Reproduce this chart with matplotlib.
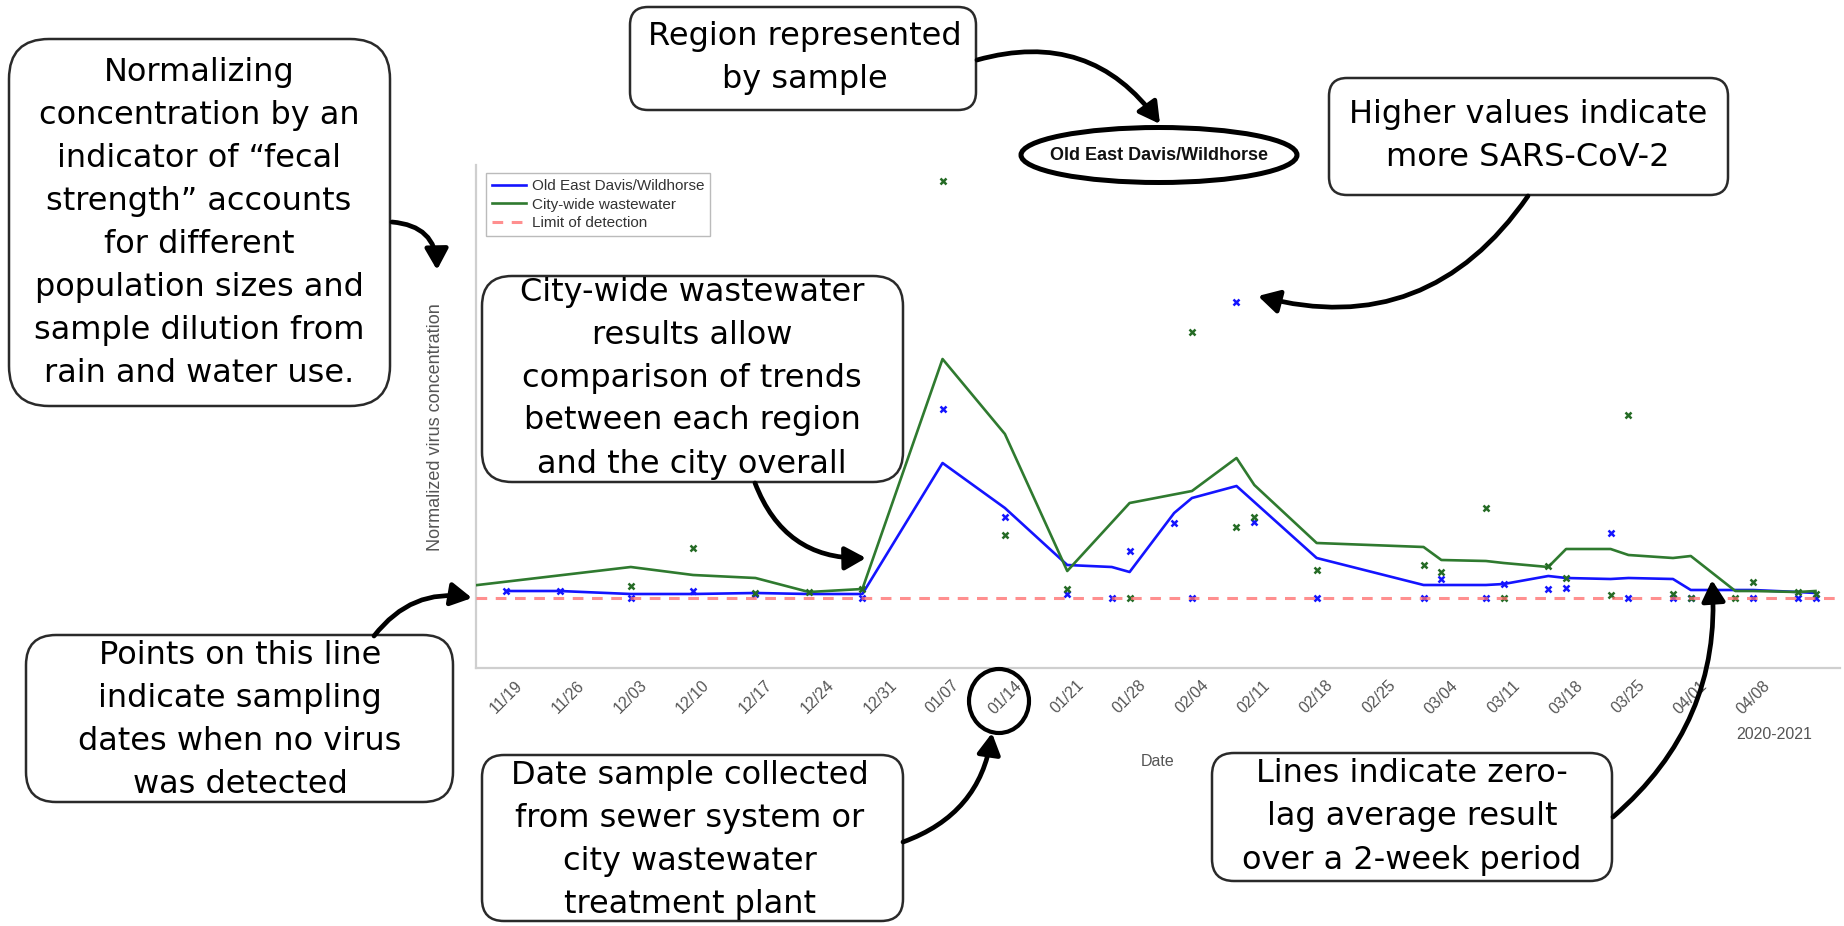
import numpy as np
import matplotlib
matplotlib.use("Agg")
import matplotlib.pyplot as plt
import matplotlib.transforms as mtransforms
from matplotlib.patches import FancyBboxPatch, FancyArrowPatch, Ellipse

# ------------------------------------------------------------------ data
oedw_dates = ["2020-11-19", "2020-11-25", "2020-12-03", "2020-12-10", "2020-12-17",
              "2020-12-29", "2021-01-07", "2021-01-14", "2021-01-21", "2021-01-26",
              "2021-01-28", "2021-02-02", "2021-02-04", "2021-02-09", "2021-02-11",
              "2021-02-18", "2021-03-02", "2021-03-04", "2021-03-09", "2021-03-11",
              "2021-03-16", "2021-03-18", "2021-03-23", "2021-03-25", "2021-03-30",
              "2021-04-01", "2021-04-08", "2021-04-13", "2021-04-15"]
oedw_values = [0.77, 0.77, 0.70, 0.77, 0.74, 0.70, 2.59, 1.51, 0.74, 0.70,
               1.17, 1.45, 0.70, 3.66, 1.46, 0.70, 0.70, 0.89, 0.70, 0.84,
               0.79, 0.80, 1.35, 0.70, 0.70, 0.70, 0.70, 0.70, 0.70]

city_dates = ["2020-12-03", "2020-12-10", "2020-12-17", "2020-12-23", "2020-12-29",
              "2021-01-07", "2021-01-14", "2021-01-21", "2021-01-28", "2021-02-04",
              "2021-02-09", "2021-02-11", "2021-02-18", "2021-03-02", "2021-03-04",
              "2021-03-09", "2021-03-11", "2021-03-16", "2021-03-18", "2021-03-23",
              "2021-03-25", "2021-03-30", "2021-04-01", "2021-04-06", "2021-04-08",
              "2021-04-13", "2021-04-15"]
city_values = [0.82, 1.20, 0.75, 0.76, 0.79, 4.87, 1.33, 0.79, 0.70, 3.36,
               1.41, 1.51, 0.98, 1.03, 0.96, 1.60, 0.70, 1.02, 0.90, 0.73,
               2.53, 0.74, 0.70, 0.70, 0.86, 0.76, 0.74]

oedw_avg_dates = ["2020-11-19", "2020-11-25", "2020-12-03", "2020-12-10", "2020-12-17",
                  "2020-12-23", "2020-12-29", "2021-01-07", "2021-01-14", "2021-01-21",
                  "2021-01-26", "2021-01-28", "2021-02-02", "2021-02-04", "2021-02-09",
                  "2021-02-11", "2021-02-18", "2021-03-02", "2021-03-04", "2021-03-09",
                  "2021-03-11", "2021-03-16", "2021-03-18", "2021-03-23", "2021-03-25",
                  "2021-03-30", "2021-04-01", "2021-04-06", "2021-04-08", "2021-04-13",
                  "2021-04-15"]
oedw_avg = [0.77, 0.77, 0.74, 0.74, 0.75, 0.74, 0.74, 2.05, 1.60, 1.03,
            1.01, 0.96, 1.55, 1.70, 1.82, 1.66, 1.10, 0.83, 0.83, 0.83,
            0.84, 0.92, 0.90, 0.89, 0.90, 0.89, 0.78, 0.78, 0.78, 0.76,
            0.75]

city_avg_dates = ["2020-11-12", "2020-12-03", "2020-12-10", "2020-12-17", "2020-12-23",
                  "2020-12-29", "2021-01-07", "2021-01-14", "2021-01-21", "2021-01-28",
                  "2021-02-04", "2021-02-09", "2021-02-11", "2021-02-18", "2021-03-02",
                  "2021-03-04", "2021-03-09", "2021-03-11", "2021-03-16", "2021-03-18",
                  "2021-03-23", "2021-03-25", "2021-03-30", "2021-04-01", "2021-04-06",
                  "2021-04-08", "2021-04-13", "2021-04-15"]
city_avg = [0.79, 1.01, 0.93, 0.90, 0.76, 0.79, 3.09, 2.34, 0.97, 1.65,
            1.77, 2.10, 1.83, 1.25, 1.21, 1.08, 1.07, 1.05, 1.01, 1.19,
            1.19, 1.13, 1.10, 1.12, 0.77, 0.77, 0.76, 0.77]

limit_of_detection = 0.70

tick_dates = ["2020-11-19", "2020-11-26", "2020-12-03", "2020-12-10", "2020-12-17",
              "2020-12-24", "2020-12-31", "2021-01-07", "2021-01-14", "2021-01-21",
              "2021-01-28", "2021-02-04", "2021-02-11", "2021-02-18", "2021-02-25",
              "2021-03-04", "2021-03-11", "2021-03-18", "2021-03-25", "2021-04-01",
              "2021-04-08"]
tick_labels = ["11/19", "11/26", "12/03", "12/10", "12/17", "12/24", "12/31",
               "01/07", "01/14", "01/21", "01/28", "02/04", "02/11", "02/18",
               "02/25", "03/04", "03/11", "03/18", "03/25", "04/01", "04/08"]

legend_labels = ["Old East Davis/Wildhorse", "City-wide wastewater", "Limit of detection"]

notes = {
    "norm": "Normalizing\nconcentration by an\nindicator of \u201cfecal\nstrength\u201d accounts\nfor different\npopulation sizes and\nsample dilution from\nrain and water use.",
    "points": "Points on this line\nindicate sampling\ndates when no virus\nwas detected",
    "city": "City-wide wastewater\nresults allow\ncomparison of trends\nbetween each region\nand the city overall",
    "region": "Region represented\nby sample",
    "higher": "Higher values indicate\nmore SARS-CoV-2",
    "date": "Date sample collected\nfrom sewer system or\ncity wastewater\ntreatment plant",
    "lines": "Lines indicate zero-\nlag average result\nover a 2-week period",
}

# ------------------------------------------------------------------ figure
W, H = 1844, 926
fig = plt.figure(figsize=(W / 100, H / 100), dpi=100)
fig.patch.set_facecolor("white")
ax = fig.add_axes([476 / W, 1 - 668 / H, (1840 - 476) / W, (668 - 165) / H])

to_dt = lambda lst: np.array(lst, dtype="datetime64[D]")

BLUE = "#1414ff"
GREEN = "#2f7a2f"
LODC = "#ff6a6a"

ax.plot(to_dt(oedw_avg_dates), oedw_avg, color=BLUE, lw=1.9, label=legend_labels[0], zorder=3)
ax.plot(to_dt(city_avg_dates), city_avg, color=GREEN, lw=1.9, label=legend_labels[1], zorder=3)
ax.plot(to_dt(oedw_dates), oedw_values, ls="none", marker="x", ms=5, mew=1.8, color=BLUE, zorder=4)
ax.plot(to_dt(city_dates), city_values, ls="none", marker="x", ms=5, mew=1.8, color="#256b25", zorder=4)
ax.axhline(limit_of_detection, color=LODC, lw=2.2, ls=(0, (3.5, 2.8)), alpha=0.75,
           label=legend_labels[2], zorder=5)

ax.set_xlim(np.datetime64("2020-11-15T15:00"), np.datetime64("2021-04-17T18:00"))
ax.set_ylim(0, 5.03)
ax.set_yticks([])
ax.set_xticks(to_dt(tick_dates))
ax.set_xticklabels(tick_labels, rotation=45, ha="center", fontsize=11.5, color="#555555",
                   family="Liberation Sans")
ax.tick_params(axis="x", length=0, pad=7)
for s in ("top", "right"):
    ax.spines[s].set_visible(False)
for s in ("left", "bottom"):
    ax.spines[s].set_color("#cfcfcf")
    ax.spines[s].set_linewidth(1.6)

ax.set_ylabel("Normalized virus concentration", fontsize=13, color="#555555", family="Liberation Sans")
ax.yaxis.set_label_coords(-0.0235, 0.479)
ax.set_xlabel("Date", fontsize=11.5, color="#555555", family="Liberation Sans")
ax.xaxis.set_label_coords(0.5, -0.171)
ax.text(0.952, -0.133, "2020-2021", transform=ax.transAxes, ha="center", va="center",
        fontsize=11.5, color="#555555", family="Liberation Sans")

leg = ax.legend(loc="upper left", bbox_to_anchor=((486 - 476) / 1364, (668 - 173) / 503),
                borderaxespad=0, fontsize=11, frameon=True, fancybox=False,
                edgecolor="#bbbbbb", framealpha=1, handlelength=2.2, handletextpad=0.4,
                labelspacing=0.3, borderpad=0.4, prop={"family": "Liberation Sans", "size": 11},
                labelcolor="#333333")
leg.get_frame().set_linewidth(1.0)

# ------------------------------------------------------------------ annotations (pixel coords)
pxT = mtransforms.Affine2D().scale(1 / fig.dpi) + fig.dpi_scale_trans


def P(x, y):
    return (x, H - y)


def note(x0, y0, x1, y1, text, cx, cy, r=28, fs=23, ls=1.5):
    box = FancyBboxPatch((x0, H - y1), x1 - x0, y1 - y0,
                         boxstyle=f"round,pad=0,rounding_size={r}", transform=pxT,
                         fc="white", ec="#2a2a2a", lw=1.8, zorder=5)
    fig.add_artist(box)
    fig.text(cx, H - cy, text, transform=pxT, ha="center", va="center", fontsize=fs,
             linespacing=ls, family="DejaVu Sans", color="black", zorder=6,
             multialignment="center")


def arrow(p0, p1, rad):
    a = FancyArrowPatch(P(*p0), P(*p1), transform=pxT, connectionstyle=f"arc3,rad={rad}",
                        arrowstyle="-|>,head_length=0.9,head_width=0.5", mutation_scale=14,
                        lw=3.4, color="black", shrinkA=0, shrinkB=0, zorder=7)
    fig.add_artist(a)


note(9, 39, 390, 406, notes["norm"], 199, 223, r=40)
note(26, 635, 453, 802, notes["points"], 240, 720, r=30)
note(482, 276, 903, 482, notes["city"], 692, 378, r=30)
note(630, 7, 976, 110, notes["region"], 805, 58, r=18)
note(1329, 78, 1728, 195, notes["higher"], 1528, 136, r=18)
note(482, 755, 903, 921, notes["date"], 690, 840, r=22)
note(1212, 753, 1612, 881, notes["lines"], 1412, 817, r=22)

arrow((392, 222), (437, 270), -0.45)
arrow((374, 636), (472, 598), -0.3)
arrow((755, 483), (866, 558), 0.35)
arrow((977, 60), (1160, 124), -0.35)
arrow((1528, 196), (1258, 296), -0.35)
arrow((903, 842), (992, 733), 0.3)
arrow((1613, 817), (1712, 580), 0.25)

ell = Ellipse(P(1159, 155), 276, 55, transform=pxT, fc="white", ec="black", lw=3.6, zorder=5)
fig.add_artist(ell)
fig.text(1159, H - 155, "Old East Davis/Wildhorse", transform=pxT, ha="center", va="center",
         fontsize=13, fontweight="bold", family="Liberation Sans", color="#111111", zorder=6)

circ = Ellipse(P(999, 701), 60, 64, transform=pxT, fc="none", ec="black", lw=3.0, zorder=6)
fig.add_artist(circ)

fig.savefig("out.png", dpi=100, facecolor="white")
